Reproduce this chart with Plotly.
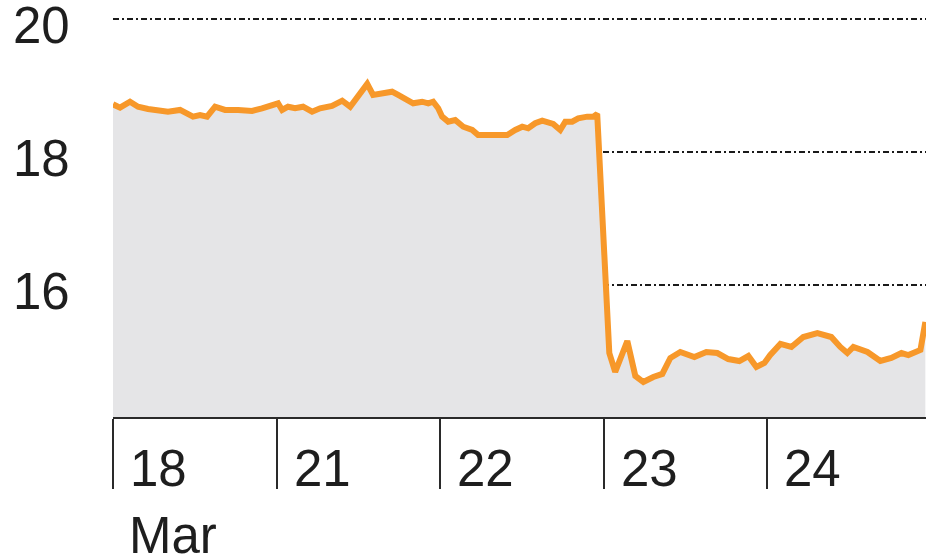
import plotly.graph_objects as go

# Trading-session position (0 = open of 18 Mar, 1 = open of 21 Mar, ...) and price
session_pos = [
    0.000, 0.043, 0.104, 0.153, 0.214, 0.275, 0.336, 0.410, 0.453, 0.489,
    0.532, 0.575, 0.624, 0.685, 0.765, 0.850, 0.911, 0.972,
    1.009, 1.034, 1.070, 1.113, 1.162, 1.217, 1.266, 1.339, 1.401, 1.450,
    1.498, 1.554, 1.590, 1.651, 1.706, 1.743, 1.798, 1.835, 1.890, 1.927,
    1.957, 1.988,
    2.012, 2.049, 2.092, 2.141, 2.196, 2.232, 2.294, 2.379, 2.410, 2.459,
    2.502, 2.538, 2.581, 2.624, 2.661, 2.691, 2.734, 2.765, 2.807, 2.844,
    2.899, 2.936, 2.960,
    3.015, 3.034, 3.070, 3.144, 3.193, 3.242, 3.303, 3.358, 3.407, 3.468,
    3.554, 3.627, 3.694, 3.761, 3.829, 3.884, 3.933, 3.982,
    4.018, 4.080, 4.147, 4.220, 4.306, 4.391, 4.446, 4.489, 4.526, 4.612,
    4.691, 4.758, 4.820, 4.862, 4.936, 4.966,
]
price = [
    18.717, 18.666, 18.756, 18.681, 18.647, 18.632, 18.606, 18.632, 18.582, 18.531,
    18.556, 18.531, 18.681, 18.632, 18.632, 18.617, 18.657, 18.696,
    18.732, 18.632, 18.681, 18.657, 18.681, 18.606, 18.657, 18.692, 18.771, 18.681,
    18.832, 19.023, 18.857, 18.883, 18.907, 18.857, 18.792, 18.732, 18.756, 18.732,
    18.756, 18.657,
    18.531, 18.456, 18.481, 18.380, 18.331, 18.256, 18.256, 18.266, 18.256, 18.331,
    18.380, 18.356, 18.432, 18.471, 18.432, 18.421, 18.331, 18.456, 18.456, 18.507,
    18.531, 18.531, 18.571,
    16.075, 14.977, 14.692, 15.158, 14.632, 14.541, 14.617, 14.662, 14.902, 14.992,
    14.917, 14.992, 14.977, 14.887, 14.857, 14.932, 14.767, 14.827,
    14.947, 15.113, 15.068, 15.218, 15.278, 15.218, 15.068, 14.977, 15.068, 14.992,
    14.857, 14.902, 14.977, 14.947, 15.023, 15.444,
]

day_starts = [0, 1, 2, 3, 4]
day_labels = ["18", "21", "22", "23", "24"]
month_label = "Mar"
y_ticks = [16, 18, 20]
y_labels = ["16", "18", "20"]

FONT = "Liberation Sans"
TEXT = "#1e1e1e"

fig = go.Figure()
fig.add_trace(go.Scatter(
    x=session_pos, y=price, mode="lines",
    line=dict(color="#f7982a", width=6),
    fill="tozeroy", fillcolor="#e5e5e7",
    hoverinfo="skip",
))

for d, lab in zip(day_starts, day_labels):
    fig.add_annotation(
        x=d, y=0, xref="x", yref="paper", text=lab, showarrow=False,
        xanchor="left", yanchor="top", align="left", xshift=15, yshift=-21,
        font=dict(family=FONT, size=51, color=TEXT),
    )
fig.add_annotation(
    x=day_starts[0], y=0, xref="x", yref="paper", text=month_label,
    showarrow=False, xanchor="left", yanchor="top", align="left",
    xshift=14, yshift=-88,
    font=dict(family=FONT, size=51, color=TEXT),
)
for v, lab in zip(y_ticks, y_labels):
    fig.add_annotation(
        x=0, y=v, xref="paper", yref="y", text=lab, showarrow=False,
        xanchor="right", yanchor="middle", xshift=-41, yshift=-7,
        font=dict(family=FONT, size=51, color=TEXT),
    )

fig.update_layout(
    width=940, height=559,
    margin=dict(l=113, r=14, t=10, b=142),
    paper_bgcolor="white", plot_bgcolor="white",
    showlegend=False,
    xaxis=dict(
        range=[0, 4.97], tickvals=day_starts, showticklabels=False,
        ticks="outside", ticklen=70, tickwidth=2, tickcolor="#2a2a2a",
        showline=True, linecolor="#2a2a2a", linewidth=2,
        showgrid=False, zeroline=False, automargin=False,
    ),
    yaxis=dict(
        range=[14.015, 20.135], tickvals=y_ticks, showticklabels=False,
        ticks="",
        showgrid=True, gridcolor="#1a1a1a", gridwidth=2,
        griddash="6px,3px,2px,3px",
        zeroline=False, showline=False, automargin=False,
    ),
)

fig.write_html(
    "out.html",
    config={"displayModeBar": False},
    post_script="document.body.style.margin='0';",
)
